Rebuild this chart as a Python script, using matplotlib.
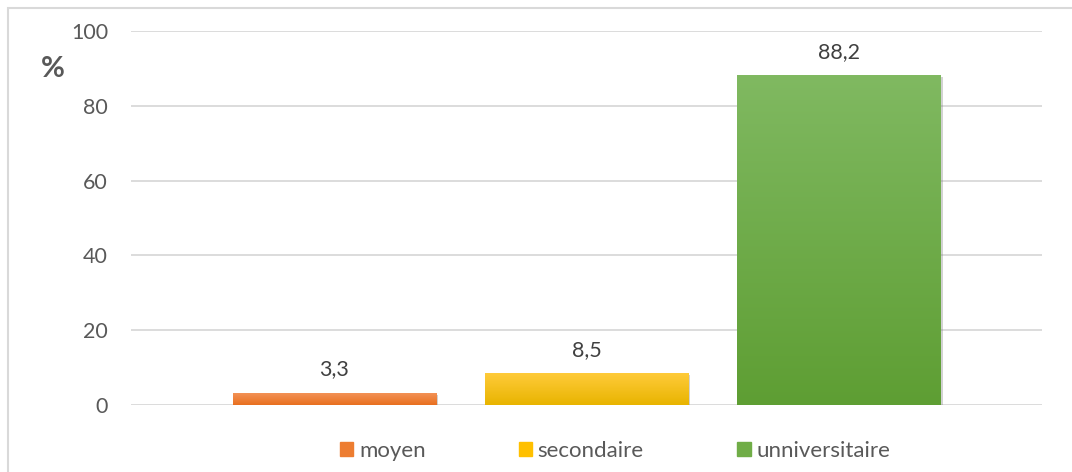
import numpy as np
import matplotlib.pyplot as plt
import matplotlib.patheffects as pe
from matplotlib.patches import Rectangle
from matplotlib.colors import LinearSegmentedColormap

# Data
categories = ['moyen', 'secondaire', 'unniversitaire']
values = [3.3, 8.5, 88.2]
labels = ['3,3', '8,5', '88,2']
# (top colour, bottom colour) for the Excel-like gradient
grads = [('#F4955A', '#E86F1F'), ('#FFCB3A', '#E8B400'), ('#80B961', '#5E9E33')]
solid = ['#ED7D31', '#FFC000', '#70AD47']

plt.rcParams['font.family'] = ['Lato', 'DejaVu Sans']

fig = plt.figure(figsize=(10.72, 4.72), dpi=100)
ax = fig.add_axes([131 / 1072, 67 / 472, (1042 - 131) / 1072, (405 - 31) / 472])

x = np.arange(len(categories))
bars = ax.bar(x, values, width=0.804, color=solid, zorder=3, label=None)

# gradient fill inside each bar, with a soft shadow like Excel
for b, (top, bot) in zip(bars, grads):
    b.set_path_effects([pe.SimplePatchShadow(offset=(1.5, -1.5), shadow_rgbFace='gray', alpha=0.35),
                        pe.Normal()])
    cmap = LinearSegmentedColormap.from_list('g', [bot, top])
    grad = np.linspace(0, 1, 256).reshape(-1, 1)
    bx, by = b.get_x(), b.get_y()
    im = ax.imshow(grad, cmap=cmap, aspect='auto', origin='lower',
                   extent=[bx, bx + b.get_width(), by, by + b.get_height()], zorder=3.5)
    im.set_clip_path(b)

for xi, v, lab in zip(x, values, labels):
    ax.text(xi, v + 3.6, lab, ha='center', va='bottom', fontsize=15.5, color='#404040')

ax.set_xlim(-0.804, 2.804)
ax.set_ylim(0, 100)
ax.set_yticks([0, 20, 40, 60, 80, 100])
ax.set_xticks([])
ax.grid(axis='y', color='#D9D9D9', linewidth=1.3, zorder=0)
for s in ax.spines.values():
    s.set_visible(False)
ax.tick_params(axis='y', length=0, pad=16.5, labelsize=15.5, labelcolor='#595959')

fig.text(53 / 1072, 1 - 69 / 472, '%', fontsize=21, fontweight='bold', color='#595959',
         ha='center', va='center')

# legend
handles = [Rectangle((0, 0), 1, 1, color=c) for c in solid]
fig.legend(handles, categories, loc='center', bbox_to_anchor=(615 / 1072, 1 - 451 / 472),
           ncol=3, frameon=False, fontsize=16, handlelength=0.6, handleheight=0.6,
           handletextpad=0.25, columnspacing=4.2, labelcolor='#595959')

# chart border
fig.add_artist(Rectangle((8 / 1072, -0.1), 1.2, 1 - 8 / 472 + 0.1, transform=fig.transFigure,
                         fill=False, edgecolor='#D9D9D9', linewidth=1.5))

fig.savefig('out.png', dpi=100)
